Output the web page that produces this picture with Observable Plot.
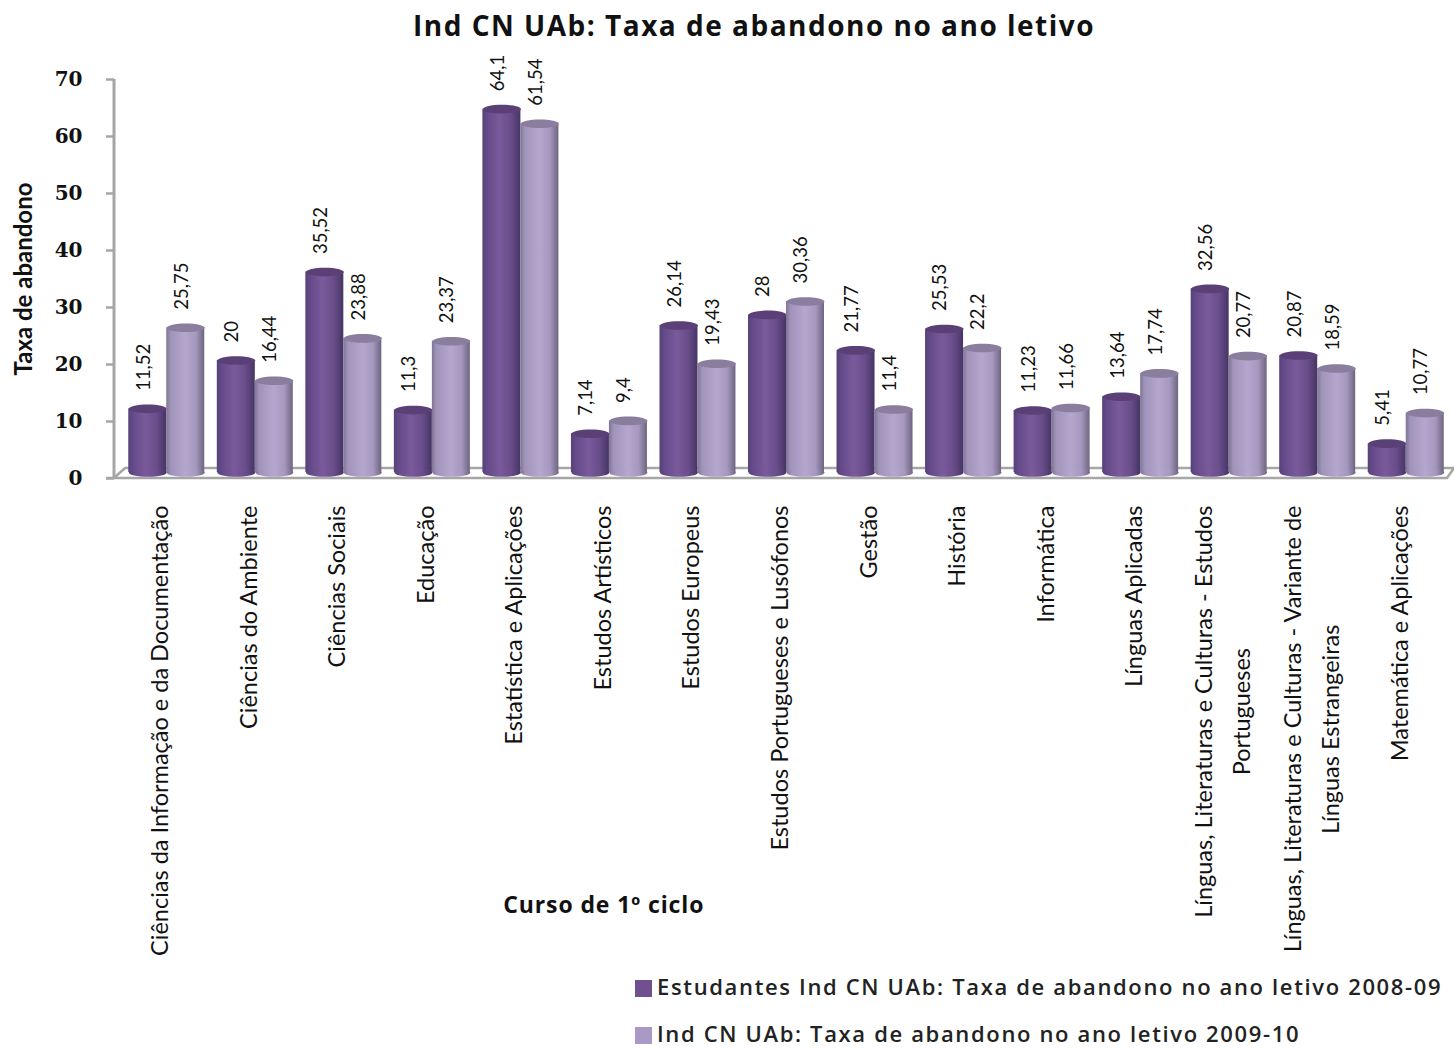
<!DOCTYPE html>
<html lang="pt">
<head>
<meta charset="utf-8">
<script src="https://cdn.jsdelivr.net/npm/d3@7"></script>
<script src="https://cdn.jsdelivr.net/npm/@observablehq/plot@0.6"></script>
<style>
  html, body { margin: 0; padding: 0; background: #fff; }
  #page { position: relative; width: 1454px; height: 1048px; overflow: hidden; }
  #title { height: 60px; padding-left: 413px; white-space: nowrap; box-sizing: border-box;
    font: bold 28px/50px "Open Sans", sans-serif; letter-spacing: 1.5px; color: #111; }
  #chart svg { display: block; }
  #legend { position: absolute; left: 635px; top: 975px; font: 600 22px "Open Sans", sans-serif; letter-spacing: 1.65px; color: #222; }
  #legend div { height: 47px; line-height: 22px; white-space: nowrap; }
  #legend i { display: inline-block; width: 17px; height: 17px; margin-right: 5px; vertical-align: -2px; }
</style>
</head>
<body>
<div id="page">
  <div id="title"></div>
  <div id="chart"></div>
  <div id="legend"></div>
</div>
<script>
const chartTitle = "Ind CN UAb: Taxa de abandono no ano letivo";
const yLabel = "Taxa de abandono";
const xLabel = "Curso de 1º ciclo";
const seriesNames = [
  "Estudantes Ind CN UAb: Taxa de abandono no ano letivo 2008-09",
  "Ind CN UAb: Taxa de abandono no ano letivo 2009-10"
];
const courses = [
  "Ciências da Informação e da Documentação",
  "Ciências do Ambiente",
  "Ciências Sociais",
  "Educação",
  "Estatística e Aplicações",
  "Estudos Artísticos",
  "Estudos Europeus",
  "Estudos Portugueses e Lusófonos",
  "Gestão",
  "História",
  "Informática",
  "Línguas Aplicadas",
  "Línguas, Literaturas e Culturas - Estudos\nPortugueses",
  "Línguas, Literaturas e Culturas - Variante de\nLínguas Estrangeiras",
  "Matemática e Aplicações"
];
const values2008 = [11.52, 20, 35.52, 11.3, 64.1, 7.14, 26.14, 28, 21.77, 25.53, 11.23, 13.64, 32.56, 20.87, 5.41];
const values2009 = [25.75, 16.44, 23.88, 23.37, 61.54, 9.4, 19.43, 30.36, 11.4, 22.2, 11.66, 17.74, 20.77, 18.59, 10.77];
const yTicks = [0, 10, 20, 30, 40, 50, 60, 70];

const rows = courses.flatMap((course, i) => [
  {course, series: seriesNames[0], value: values2008[i]},
  {course, series: seriesNames[1], value: values2009[i]}
]);
const plotWidth = 1454;
const catFont = 'Lato, sans-serif';
const labelSize = 23.5;
const labelTop = 27;       // gap between the baseline and the head of a category label
const measureCtx = document.createElement("canvas").getContext("2d");
const measure = (s) => { measureCtx.font = `${labelSize}px ${catFont}`; return measureCtx.measureText(s).width; };

const ellipseSymbol = {
  draw(ctx, size) {
    const rx = Math.sqrt(size / Math.PI), ry = 4.3, k = 0.5523;
    ctx.moveTo(-rx, 0);
    ctx.bezierCurveTo(-rx, -ry * k, -rx * k, -ry, 0, -ry);
    ctx.bezierCurveTo(rx * k, -ry, rx, -ry * k, rx, 0);
    ctx.bezierCurveTo(rx, ry * k, rx * k, ry, 0, ry);
    ctx.bezierCurveTo(-rx * k, ry, -rx, ry * k, -rx, 0);
    ctx.closePath();
  }
};

function gradientDefs() {
  const defs = d3.create("svg:defs");
  const add = (id, stops) => {
    const g = defs.append("linearGradient").attr("id", id).attr("x1", 0).attr("x2", 1).attr("y1", 0).attr("y2", 0);
    stops.forEach(([o, c]) => g.append("stop").attr("offset", o).attr("stop-color", c));
  };
  add("cylDark", [[0, "#56417a"], [0.12, "#644a88"], [0.45, "#7a5a9c"], [0.75, "#694d8a"], [1, "#463565"]]);
  add("cylLight", [[0, "#7f7594"], [0.12, "#a194ba"], [0.5, "#b4a6cd"], [0.78, "#a597bd"], [1, "#6e6580"]]);
  return defs.node();
}

// the grey wall line and the floor of the 3D frame, drawn once from the y scale
function floorFrame(index, {y}, channels, {marginLeft}) {
  const left = marginLeft - 8, y0 = y(0), y1 = y(70), depth = 10;
  const g = d3.create("svg:g").attr("fill", "none").attr("stroke", "#a6a6a6");
  g.append("path").attr("stroke-width", 3).attr("d", `M${left},${y1}V${y0}`);
  g.append("path").attr("stroke-width", 2.5)
    .attr("d", `M${left - 8},${y0}H${plotWidth - 7}L${plotWidth},${y0 - depth}H${left + 11}L${left},${y0}`);
  return g.node();
}

const isFirst = (d) => d.series === seriesNames[0];
const isSecond = (d) => d.series === seriesNames[1];
const firstCourse = () => courses[0];
const firstLines = courses.map((c) => ({course: c, line: c.split("\n")[0]}));
const secondLines = courses.filter((c) => c.includes("\n")).map((c) => ({course: c, first: c.split("\n")[0], line: c.split("\n")[1]}));

const plot = Plot.plot({
  width: plotWidth,
  height: 900,
  marginTop: 19,
  marginBottom: 482,
  marginLeft: 122,
  marginRight: 4,
  style: {background: "#fff", overflow: "visible"},
  fx: {domain: courses, padding: 0, round: false, axis: null},
  x: {domain: seriesNames, paddingInner: 0, paddingOuter: 0.165, round: false, axis: null},
  y: {domain: [0, 70], axis: null},
  marks: [
    Plot.ruleY([0], {fx: firstCourse, render: floorFrame}),
    Plot.ruleY([0], {fx: firstCourse, render: gradientDefs}),
    Plot.axisY({
      ticks: yTicks, tickSize: 8, tickPadding: 24, label: null, dx: -8,
      stroke: "#a6a6a6", strokeWidth: 2.5,
      fontFamily: '"DejaVu Serif", serif', fontWeight: "bold", fontSize: 20, fill: "#111"
    }),
    Plot.barY(rows, {filter: isFirst, fx: "course", x: "series", y: "value", fill: "url(#cylDark)", dy: -4, insetBottom: 2}),
    Plot.dot(rows, {filter: isFirst, fx: "course", x: "series", y: 0, r: 19, symbol: ellipseSymbol, fill: "url(#cylDark)", dy: -6}),
    Plot.dot(rows, {filter: isFirst, fx: "course", x: "series", y: "value", r: 19, symbol: ellipseSymbol, fill: "#5a4077", dy: -4}),
    Plot.barY(rows, {filter: isSecond, fx: "course", x: "series", y: "value", fill: "url(#cylLight)", dy: -4, insetBottom: 2}),
    Plot.dot(rows, {filter: isSecond, fx: "course", x: "series", y: 0, r: 19, symbol: ellipseSymbol, fill: "url(#cylLight)", dy: -6}),
    Plot.dot(rows, {filter: isSecond, fx: "course", x: "series", y: "value", r: 19, symbol: ellipseSymbol, fill: "#8a7d9e", dy: -4}),
    Plot.text(rows, {
      fx: "course", x: "series", y: "value",
      text: (d) => String(d.value).replace(".", ","),
      rotate: -90, textAnchor: "start", dy: -22, dx: -4,
      fontFamily: catFont, fontSize: 18.5, fill: "#111"
    }),
    // single-line category labels and the first line of two-line labels
    Plot.text(firstLines, {
      fx: "course", text: "line", frameAnchor: "bottom", rotate: -90, textAnchor: "end",
      dy: labelTop, dx: 1.5, fontFamily: catFont, fontSize: labelSize, fill: "#111",
      filter: (d) => !d.course.includes("\n")
    }),
    Plot.text(firstLines, {
      fx: "course", text: "line", frameAnchor: "bottom", rotate: -90, textAnchor: "end",
      dy: labelTop, dx: -17, fontFamily: catFont, fontSize: labelSize, fill: "#111",
      filter: (d) => d.course.includes("\n")
    }),
    // second lines stay centred under the first line
    ...secondLines.map((d) => Plot.text([d], {
      fx: "course", text: "line", frameAnchor: "bottom", rotate: -90, textAnchor: "middle",
      dy: labelTop + measure(d.first) / 2, dx: 21, fontFamily: catFont, fontSize: labelSize, fill: "#111"
    })),
    Plot.text([yLabel], {
      fx: firstCourse, frameAnchor: "middle", rotate: -90, dx: -142,
      fontFamily: catFont, fontWeight: "bold", fontSize: 24, fill: "#111"
    }),
    Plot.text([xLabel], {
      fx: firstCourse, frameAnchor: "bottom", dx: 437, dy: 434,
      fontFamily: '"Open Sans", sans-serif', fontWeight: "bold", fontSize: 23, fill: "#111"
    })
  ]
});

d3.select(plot).selectAll("text").filter(function () { return this.textContent === xLabel; })
  .style("letter-spacing", "0.9px");

document.getElementById("title").textContent = chartTitle;
document.getElementById("chart").append(plot);
const legendColors = ["#715091", "#a999c4"];
const legend = d3.select("#legend");
seriesNames.forEach((name, i) => {
  const row = legend.append("div");
  row.append("i").style("background", legendColors[i]);
  row.append("span").text(name);
});
</script>
</body>
</html>
